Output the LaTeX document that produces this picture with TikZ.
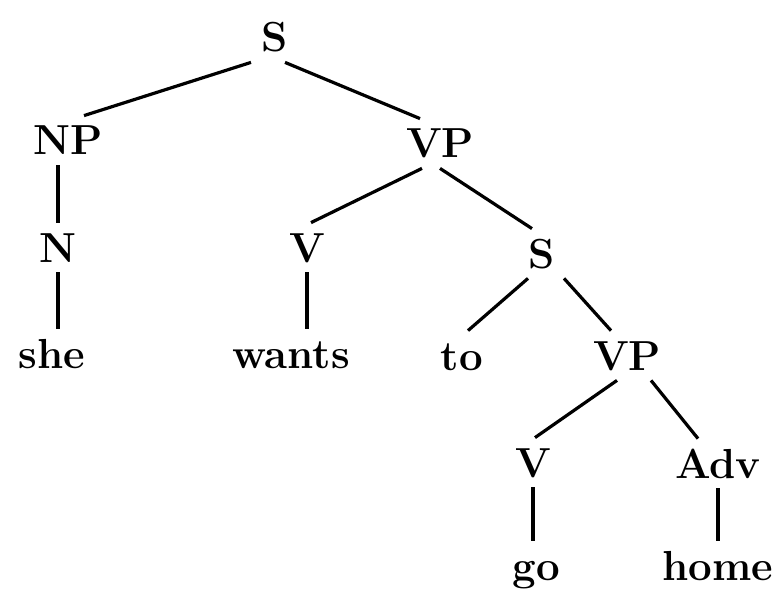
\documentclass[tikz,border=0pt]{standalone}
\usepackage{tikz}
\tikzset{
  cat/.style={anchor=base,inner xsep=4pt,inner ysep=5pt,text height=14.5pt,text depth=0pt,
    font=\fontsize{21}{25}\selectfont\bfseries},
  word/.style={cat},
  branch/.style={line width=1.6pt}
}

\begin{document}
\begin{tikzpicture}[x=0.5pt,y=-0.5pt]
  \useasboundingbox (0,0) rectangle (775,588);

  % categories
  \node[cat] (s)    at (275,52)  {S};
  \node[cat] (np)   at (68,155)  {NP};
  \node[cat] (vp)   at (440,158) {VP};
  \node[cat] (n)    at (58,262)  {N};
  \node[cat] (v)    at (307,262) {V};
  \node[cat] (sub)  at (542,268) {S};
  \node[cat] (vpb)  at (627,370) {VP};
  \node[cat] (vb)   at (533,477) {V};
  \node[cat] (adv)  at (718,478) {Adv};

  % words
  \node[word] (she)   at (52,368)  {she};
  \node[word] (wants) at (291,368) {wants};
  \node[word] (to)    at (462,370) {to};
  \node[word] (go)    at (536,580) {go};
  \node[word] (home)  at (718,580) {home};

  % branches
  \draw[branch] ([xshift=-12pt]s.south) -- ([xshift=8pt]np.north);
  \draw[branch] ([xshift=5pt]s.south) -- ([xshift=-10pt]vp.north);
  \draw[branch] (np.south -| n.north) -- (n.north);
  \draw[branch] (n.south) -- (she.north -| n.south);
  \draw[branch] ([xshift=-9pt]vp.south) -- ([xshift=2pt]v.north);
  \draw[branch] (vp.south) -- ([xshift=-5pt]sub.north);
  \draw[branch] (v.south) -- (wants.north -| v.south);
  \draw[branch] ([xshift=-7pt]sub.south) -- ([xshift=3pt]to.north);
  \draw[branch] ([xshift=11pt]sub.south) -- ([xshift=-8pt]vpb.north);
  \draw[branch] ([xshift=-5pt]vpb.south) -- ([xshift=1pt]vb.north);
  \draw[branch] ([xshift=12pt]vpb.south) -- ([xshift=-10pt]adv.north);
  \draw[branch] (vb.south) -- (go.north -| vb.south);
  \draw[branch] (adv.south) -- (home.north -| adv.south);
\end{tikzpicture}
\end{document}
